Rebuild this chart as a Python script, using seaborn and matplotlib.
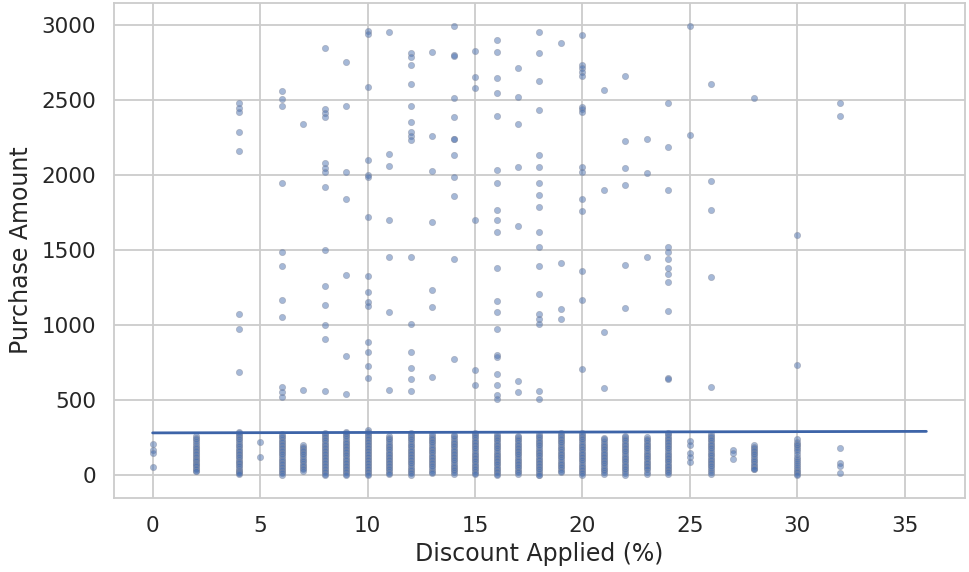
import matplotlib
matplotlib.use("Agg")
import matplotlib.pyplot as plt
import seaborn as sns
import pandas as pd

# ---- data ----
high_discounts = [4, 6, 7, 8, 9, 10, 11, 12, 13, 14, 15, 16, 17, 18, 19, 20,
                  21, 22, 23, 24, 25, 26, 28, 30, 32]
high_amounts = [
    [2480, 2450, 2420, 2290, 2160, 1075, 975, 690],
    [2560, 2510, 2460, 1950, 1490, 1395, 1170, 1055, 590, 555, 525],
    [2345, 570],
    [2850, 2440, 2415, 2390, 2085, 2050, 2020, 1920, 1505, 1260, 1135, 1000, 910, 560],
    [2755, 2460, 2020, 1845, 1335, 795, 540],
    [2960, 2945, 2590, 2105, 2000, 1990, 1720, 1330, 1220, 1155, 1130, 890, 825, 730, 650],
    [2955, 2140, 2060, 1705, 1455, 1090, 570],
    [2815, 2790, 2735, 2610, 2460, 2355, 2290, 2260, 2235, 1455, 1010, 825, 715, 645, 565],
    [2820, 2265, 2030, 1690, 1235, 1120, 655],
    [2995, 2805, 2795, 2515, 2390, 2245, 2240, 2135, 1990, 1860, 1440, 775],
    [2830, 2655, 2580, 1705, 700, 600],
    [2905, 2825, 2650, 2550, 2395, 2035, 1950, 1770, 1705, 1620, 1385, 1160, 1090, 975,
     800, 790, 675, 605, 535, 510],
    [2715, 2520, 2340, 2055, 1660, 630, 555],
    [2955, 2815, 2630, 2435, 2135, 2055, 1950, 1870, 1790, 1620, 1520, 1395, 1210, 1075,
     1040, 1010, 565, 510],
    [2885, 1415, 1110, 1040],
    [2935, 2735, 2715, 2690, 2660, 2455, 2440, 2420, 2055, 2025, 1840, 1765, 1360, 1170, 710],
    [2570, 1905, 955, 585],
    [2660, 2230, 2050, 1935, 1405, 1115],
    [2245, 2015, 1455],
    [2480, 2190, 1905, 1525, 1490, 1440, 1385, 1340, 1290, 1095, 650, 640],
    [2995, 2270],
    [2610, 1960, 1770, 1320, 590],
    [2515],
    [1600, 735],
    [2480, 2395],
]

low_discounts = [0, 2, 4, 5, 6, 7, 8, 9, 10, 11, 12, 13, 14, 15, 16, 17, 18, 19,
                 20, 21, 22, 23, 24, 25, 26, 27, 28, 30, 32]
low_amounts = [
    [210, 170, 150, 55],
    [260, 250, 240, 228, 215, 203, 190, 180, 170, 160, 150, 140, 130, 120, 110, 102,
     95, 85, 75, 68, 60, 50, 40, 33, 27],
    [290, 280, 270, 260, 250, 240, 230, 218, 205, 195, 185, 172, 160, 150, 140, 130,
     120, 108, 95, 88, 80, 70, 60, 48, 35, 28, 20, 15, 10],
    [225, 120],
    [275, 265, 255, 242, 230, 220, 210, 200, 190, 180, 170, 160, 150, 140, 130, 118,
     105, 95, 85, 75, 65, 55, 45, 35, 25, 15, 5],
    [200, 190, 180, 170, 160, 150, 140, 128, 115, 105, 95, 82, 70, 60, 50, 42, 33],
    [285, 275, 265, 255, 245, 235, 225, 212, 200, 190, 180, 170, 160, 150, 140, 130,
     120, 110, 100, 90, 80, 70, 60, 50, 40, 30, 20, 10, 3],
    [290, 280, 270, 260, 250, 238, 225, 215, 205, 195, 185, 175, 165, 155, 145, 135,
     125, 112, 100, 90, 80, 70, 60, 50, 40, 30, 20, 12, 5],
    [300, 290, 280, 270, 260, 250, 240, 230, 220, 210, 200, 190, 180, 170, 160, 150,
     140, 130, 120, 110, 100, 90, 80, 70, 60, 50, 40, 30, 20, 10, 2],
    [260, 250, 240, 228, 215, 205, 195, 185, 175, 162, 150, 140, 130, 120, 110, 100,
     90, 80, 70, 60, 50, 40, 30, 18, 8],
    [280, 270, 260, 250, 240, 228, 215, 205, 195, 182, 170, 160, 150, 140, 130, 120,
     110, 100, 90, 80, 70, 58, 45, 35, 25, 15, 5],
    [275, 262, 250, 240, 230, 220, 210, 198, 185, 175, 165, 155, 145, 132, 120, 110,
     100, 90, 80, 70, 60, 48, 35, 25, 15],
    [270, 260, 250, 238, 225, 215, 205, 195, 185, 172, 160, 150, 140, 130, 120, 110,
     100, 88, 75, 65, 55, 45, 35, 22, 10],
    [285, 275, 265, 255, 245, 232, 220, 210, 200, 190, 180, 168, 155, 145, 135, 125,
     115, 105, 95, 82, 70, 60, 50, 40, 30, 18, 8],
    [275, 265, 255, 245, 235, 222, 210, 200, 190, 180, 170, 158, 145, 135, 125, 115,
     105, 95, 85, 75, 65, 52, 40, 30, 20, 10, 3],
    [265, 255, 245, 235, 225, 212, 200, 190, 180, 170, 160, 150, 140, 128, 115, 105,
     95, 85, 75, 65, 55, 42, 30, 20, 10],
    [275, 265, 255, 242, 230, 220, 210, 200, 190, 178, 165, 155, 145, 135, 125, 112,
     100, 90, 80, 70, 60, 50, 40, 28, 15, 5, 0],
    [285, 272, 260, 250, 240, 230, 220, 208, 195, 185, 175, 162, 150, 140, 130, 120,
     110, 98, 85, 75, 65, 55, 45, 32, 20],
    [280, 270, 260, 250, 240, 228, 215, 205, 195, 185, 175, 162, 150, 140, 130, 120,
     110, 100, 90, 78, 65, 55, 45, 35, 25, 15, 5],
    [250, 240, 230, 218, 205, 195, 185, 175, 165, 152, 140, 130, 120, 110, 100, 90,
     80, 68, 55, 45, 35, 22, 12],
    [265, 255, 245, 235, 225, 212, 200, 190, 180, 170, 160, 148, 135, 125, 115, 105,
     95, 82, 70, 60, 50, 40, 30, 18, 5],
    [255, 245, 235, 222, 210, 200, 190, 180, 170, 158, 145, 135, 125, 115, 105, 92,
     80, 70, 60, 50, 40, 25, 8],
    [285, 275, 265, 252, 240, 230, 220, 210, 200, 190, 180, 168, 155, 145, 135, 125,
     115, 105, 95, 82, 70, 60, 50, 40, 30, 20, 10],
    [230, 200, 150, 120, 90],
    [275, 265, 255, 245, 235, 222, 210, 200, 190, 180, 170, 158, 145, 135, 125, 112,
     100, 90, 80, 70, 60, 48, 35, 22, 10],
    [170, 150, 110],
    [200, 190, 180, 170, 160, 150, 140, 128, 115, 105, 95, 82, 70, 60, 50, 45, 40],
    [240, 225, 210, 200, 190, 175, 160, 140, 120, 108, 95, 82, 70, 58, 45, 32, 20, 10, 0],
    [185, 80, 65, 15],
]

# fitted trend line end points
line_x = [0, 36]
line_y = [284, 294]

x_label = "Discount Applied (%)"
y_label = "Purchase Amount"

# ---- build table ----
rows = []
for d, vals in zip(high_discounts, high_amounts):
    rows += [(d, v) for v in vals]
for d, vals in zip(low_discounts, low_amounts):
    rows += [(d, v) for v in vals]
df = pd.DataFrame(rows, columns=[x_label, y_label])

sns.set_theme(style="whitegrid", font_scale=1.4)
plt.rcParams["grid.linewidth"] = 1.3
plt.rcParams["axes.linewidth"] = 1.3

fig, ax = plt.subplots(figsize=(9.69, 5.72), dpi=100)
fig.subplots_adjust(left=0.1176, right=0.9959, top=0.9948, bottom=0.1294)

sns.scatterplot(data=df, x=x_label, y=y_label, ax=ax, s=20, alpha=0.5,
                color="#4c72b0", edgecolor="#8a8fa0", linewidth=0.6)
sns.lineplot(x=line_x, y=line_y, ax=ax, color="#3d64a8", linewidth=2.0)

ax.set_xlim(-1.8, 37.8)
ax.set_ylim(-150, 3150)
ax.set_xticks([0, 5, 10, 15, 20, 25, 30, 35])
ax.set_yticks([0, 500, 1000, 1500, 2000, 2500, 3000])
ax.tick_params(labelsize=15.5, pad=7)
ax.set_xlabel(x_label, fontsize=17, labelpad=4)
ax.set_ylabel(y_label, fontsize=17, labelpad=6)

fig.savefig("out.png", dpi=100)
